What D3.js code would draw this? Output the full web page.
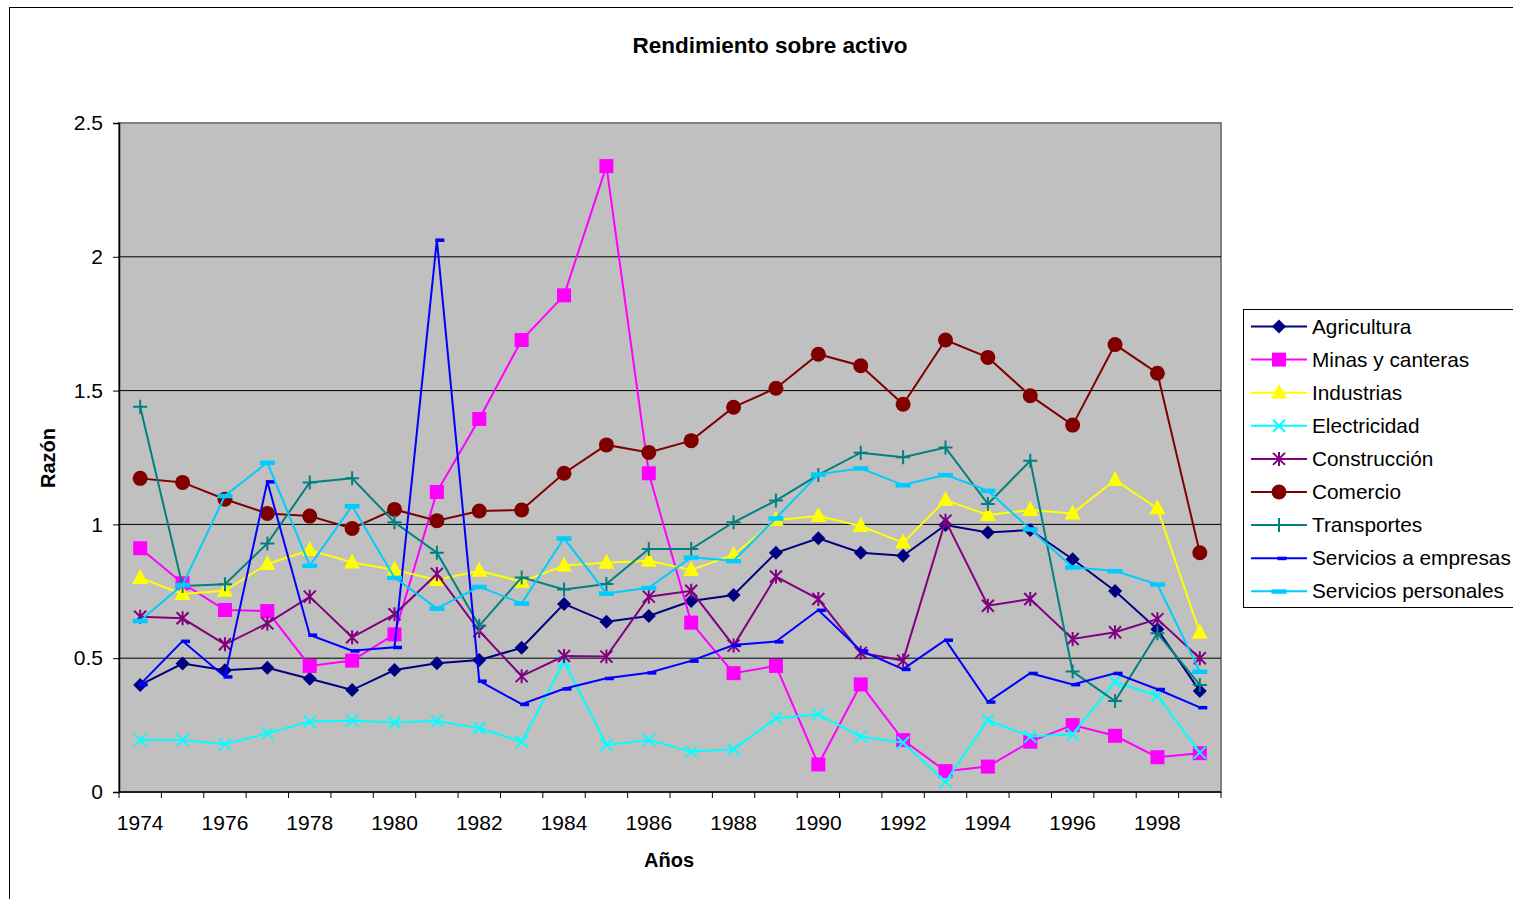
<!DOCTYPE html>
<html><head><meta charset="utf-8">
<script src="https://cdn.jsdelivr.net/npm/d3@7"></script>
<style>body{margin:0;background:#fff;font-family:"Liberation Sans",Arial,sans-serif}</style>
</head><body><svg id="c" width="1513" height="899"></svg>
<script>
const years = d3.range(1974, 2000);
const yTicks = [0, 0.5, 1, 1.5, 2, 2.5];
const seriesNames = ["Agricultura","Minas y canteras","Industrias","Electricidad","Construcción","Comercio","Transportes","Servicios a empresas","Servicios personales"];
const agricultura = [0.40,0.48,0.455,0.464,0.423,0.381,0.456,0.481,0.493,0.539,0.703,0.636,0.658,0.714,0.736,0.894,0.948,0.894,0.883,0.998,0.970,0.979,0.870,0.751,0.608,0.377];
const minas = [0.911,0.78,0.68,0.676,0.471,0.491,0.589,1.121,1.394,1.689,1.856,2.339,1.191,0.633,0.444,0.471,0.103,0.402,0.194,0.078,0.095,0.188,0.25,0.21,0.13,0.145];
const industrias = [0.80,0.74,0.752,0.852,0.904,0.858,0.83,0.792,0.827,0.786,0.846,0.857,0.864,0.83,0.886,1.016,1.031,0.994,0.932,1.091,1.035,1.054,1.041,1.166,1.06,0.595];
const electricidad = [0.194,0.194,0.178,0.219,0.263,0.266,0.26,0.265,0.238,0.188,0.487,0.176,0.194,0.151,0.16,0.275,0.29,0.207,0.184,0.038,0.269,0.207,0.216,0.412,0.359,0.147];
const construccion = [0.655,0.649,0.552,0.63,0.73,0.578,0.664,0.815,0.602,0.433,0.508,0.506,0.73,0.752,0.547,0.805,0.721,0.52,0.491,1.014,0.696,0.721,0.572,0.597,0.646,0.50];
const comercio = [1.172,1.157,1.094,1.041,1.031,0.985,1.056,1.014,1.05,1.054,1.191,1.297,1.269,1.313,1.438,1.509,1.636,1.593,1.449,1.689,1.624,1.481,1.371,1.672,1.565,0.894];
const transportes = [1.44,0.77,0.776,0.929,1.157,1.172,1.008,0.894,0.621,0.802,0.757,0.777,0.908,0.908,1.008,1.089,1.185,1.268,1.251,1.287,1.076,1.238,0.45,0.34,0.593,0.40];
const servEmpresas = [0.402,0.564,0.431,1.16,0.587,0.528,0.541,2.063,0.415,0.328,0.386,0.425,0.446,0.49,0.549,0.562,0.68,0.528,0.459,0.568,0.337,0.444,0.402,0.444,0.384,0.316];
const servPersonales = [0.64,0.774,1.107,1.231,0.846,1.069,0.801,0.686,0.767,0.705,0.948,0.742,0.763,0.877,0.864,1.023,1.187,1.21,1.147,1.185,1.126,0.982,0.84,0.826,0.776,0.45];
const seriesValues = [agricultura,minas,industrias,electricidad,construccion,comercio,transportes,servEmpresas,servPersonales];
const colors = ["#000080","#FF00FF","#FFFF00","#00FFFF","#800080","#800000","#008080","#0000FF","#00CCFF"];
const markers = ["diamond","square","triangle","x","star","circle","plus","dashR","dash"];

const svg = d3.select("#c");
const L = 119, R = 1221, T = 123, B = 792;
const x = d3.scaleBand().domain(years).range([L, R]);
const cx = d => x(d) + x.bandwidth() / 2;
const y = d3.scaleLinear().domain([0, 2.5]).range([B, T]);

// outer chart border
svg.append("rect").attr("x", 9.5).attr("y", 7.5).attr("width", 1600).attr("height", 1000)
  .attr("fill", "none").attr("stroke", "#000").attr("stroke-width", 1);

// plot area
svg.append("rect").attr("x", L).attr("y", T).attr("width", R - L).attr("height", B - T)
  .attr("fill", "#C0C0C0").attr("stroke", "#808080").attr("stroke-width", 2);

// gridlines
svg.append("g").selectAll("line").data(yTicks.filter(v => v > 0 && v < 2.5)).join("line")
  .attr("x1", L).attr("x2", R).attr("y1", d => y(d)).attr("y2", d => y(d))
  .attr("stroke", "#000").attr("stroke-width", 1);

// y axis
const yAxis = svg.append("g").attr("transform", `translate(${L},0)`)
  .call(d3.axisLeft(y).tickValues(yTicks).tickSize(6).tickPadding(10).tickFormat(d3.format("")));
yAxis.select(".domain").attr("stroke", "#000").attr("stroke-width", 1.5);
yAxis.selectAll("text").attr("font-size", 21).attr("font-family", "Liberation Sans, Arial").attr("fill", "#000");
yAxis.selectAll(".tick line").attr("stroke", "#000");

// x axis line
svg.append("line").attr("x1", L).attr("x2", R).attr("y1", B).attr("y2", B).attr("stroke", "#000").attr("stroke-width", 1.5);
// tick marks at category boundaries
const bounds = years.map(d => x(d)).concat([x(years[years.length - 1]) + x.bandwidth()]);
svg.append("g").selectAll("line").data(bounds).join("line")
  .attr("x1", d => d).attr("x2", d => d).attr("y1", B).attr("y2", B + 6).attr("stroke", "#000").attr("stroke-width", 1);
// labels
svg.append("g").selectAll("text").data(years.filter(d => d % 2 === 0)).join("text")
  .attr("x", d => cx(d)).attr("y", 830).attr("text-anchor", "middle")
  .attr("font-size", 21).attr("fill", "#000").text(d => d);

// titles
svg.append("text").attr("x", 770).attr("y", 53).attr("text-anchor", "middle")
  .attr("font-size", 22.5).attr("font-weight", "bold").text("Rendimiento sobre activo");
svg.append("text").attr("x", 669).attr("y", 867).attr("text-anchor", "middle")
  .attr("font-size", 20).attr("font-weight", "bold").text("Años");
svg.append("text").attr("transform", "translate(55,458) rotate(-90)").attr("text-anchor", "middle")
  .attr("font-size", 20).attr("font-weight", "bold").text("Razón");

function drawMarker(g, type, color, px, py) {
  const s = 7;
  if (type === "diamond") {
    g.append("path").attr("d", `M${px},${py - s}L${px + s},${py}L${px},${py + s}L${px - s},${py}Z`).attr("fill", color);
  } else if (type === "square") {
    g.append("rect").attr("x", px - 7).attr("y", py - 7).attr("width", 14).attr("height", 14).attr("fill", color);
  } else if (type === "triangle") {
    g.append("path").attr("d", `M${px},${py - 9}L${px + 8},${py + 6}L${px - 8},${py + 6}Z`).attr("fill", color);
  } else if (type === "circle") {
    g.append("circle").attr("cx", px).attr("cy", py).attr("r", 7.5).attr("fill", color);
  } else if (type === "x") {
    g.append("path").attr("d", `M${px - 6},${py - 6}L${px + 6},${py + 6}M${px + 6},${py - 6}L${px - 6},${py + 6}`)
      .attr("stroke", color).attr("stroke-width", 2).attr("fill", "none");
  } else if (type === "star") {
    g.append("path").attr("d", `M${px - 6},${py - 6}L${px + 6},${py + 6}M${px + 6},${py - 6}L${px - 6},${py + 6}M${px},${py - 7}L${px},${py + 7}`)
      .attr("stroke", color).attr("stroke-width", 2).attr("fill", "none");
  } else if (type === "plus") {
    g.append("path").attr("d", `M${px - 7},${py}L${px + 7},${py}M${px},${py - 7}L${px},${py + 7}`)
      .attr("stroke", color).attr("stroke-width", 2).attr("fill", "none");
  } else if (type === "dashR") {
    g.append("rect").attr("x", px - 1.5).attr("y", py - 1.5).attr("width", 9).attr("height", 3.5).attr("fill", color);
  } else if (type === "dash") {
    g.append("rect").attr("x", px - 7.5).attr("y", py - 2).attr("width", 15).attr("height", 4.5).attr("fill", color);
  }
}

const line = d3.line().x((d, i) => cx(years[i])).y(d => y(d));
seriesValues.forEach((vals, si) => {
  const g = svg.append("g");
  g.append("path").attr("d", line(vals)).attr("fill", "none").attr("stroke", colors[si]).attr("stroke-width", 2);
  vals.forEach((v, i) => drawMarker(g, markers[si], colors[si], cx(years[i]), y(v)));
});

// legend
const lg = svg.append("g");
lg.append("rect").attr("x", 1243.5).attr("y", 309.5).attr("width", 300).attr("height", 298)
  .attr("fill", "#fff").attr("stroke", "#000").attr("stroke-width", 1);
seriesNames.forEach((n, i) => {
  const ly = 326.5 + i * 33.1;
  lg.append("line").attr("x1", 1251).attr("x2", 1307).attr("y1", ly).attr("y2", ly).attr("stroke", colors[i]).attr("stroke-width", 2);
  drawMarker(lg, markers[i], colors[i], 1279, ly);
  lg.append("text").attr("x", 1312).attr("y", ly + 7).attr("font-size", 20.8).attr("fill", "#000").text(n);
});
</script></body></html>
